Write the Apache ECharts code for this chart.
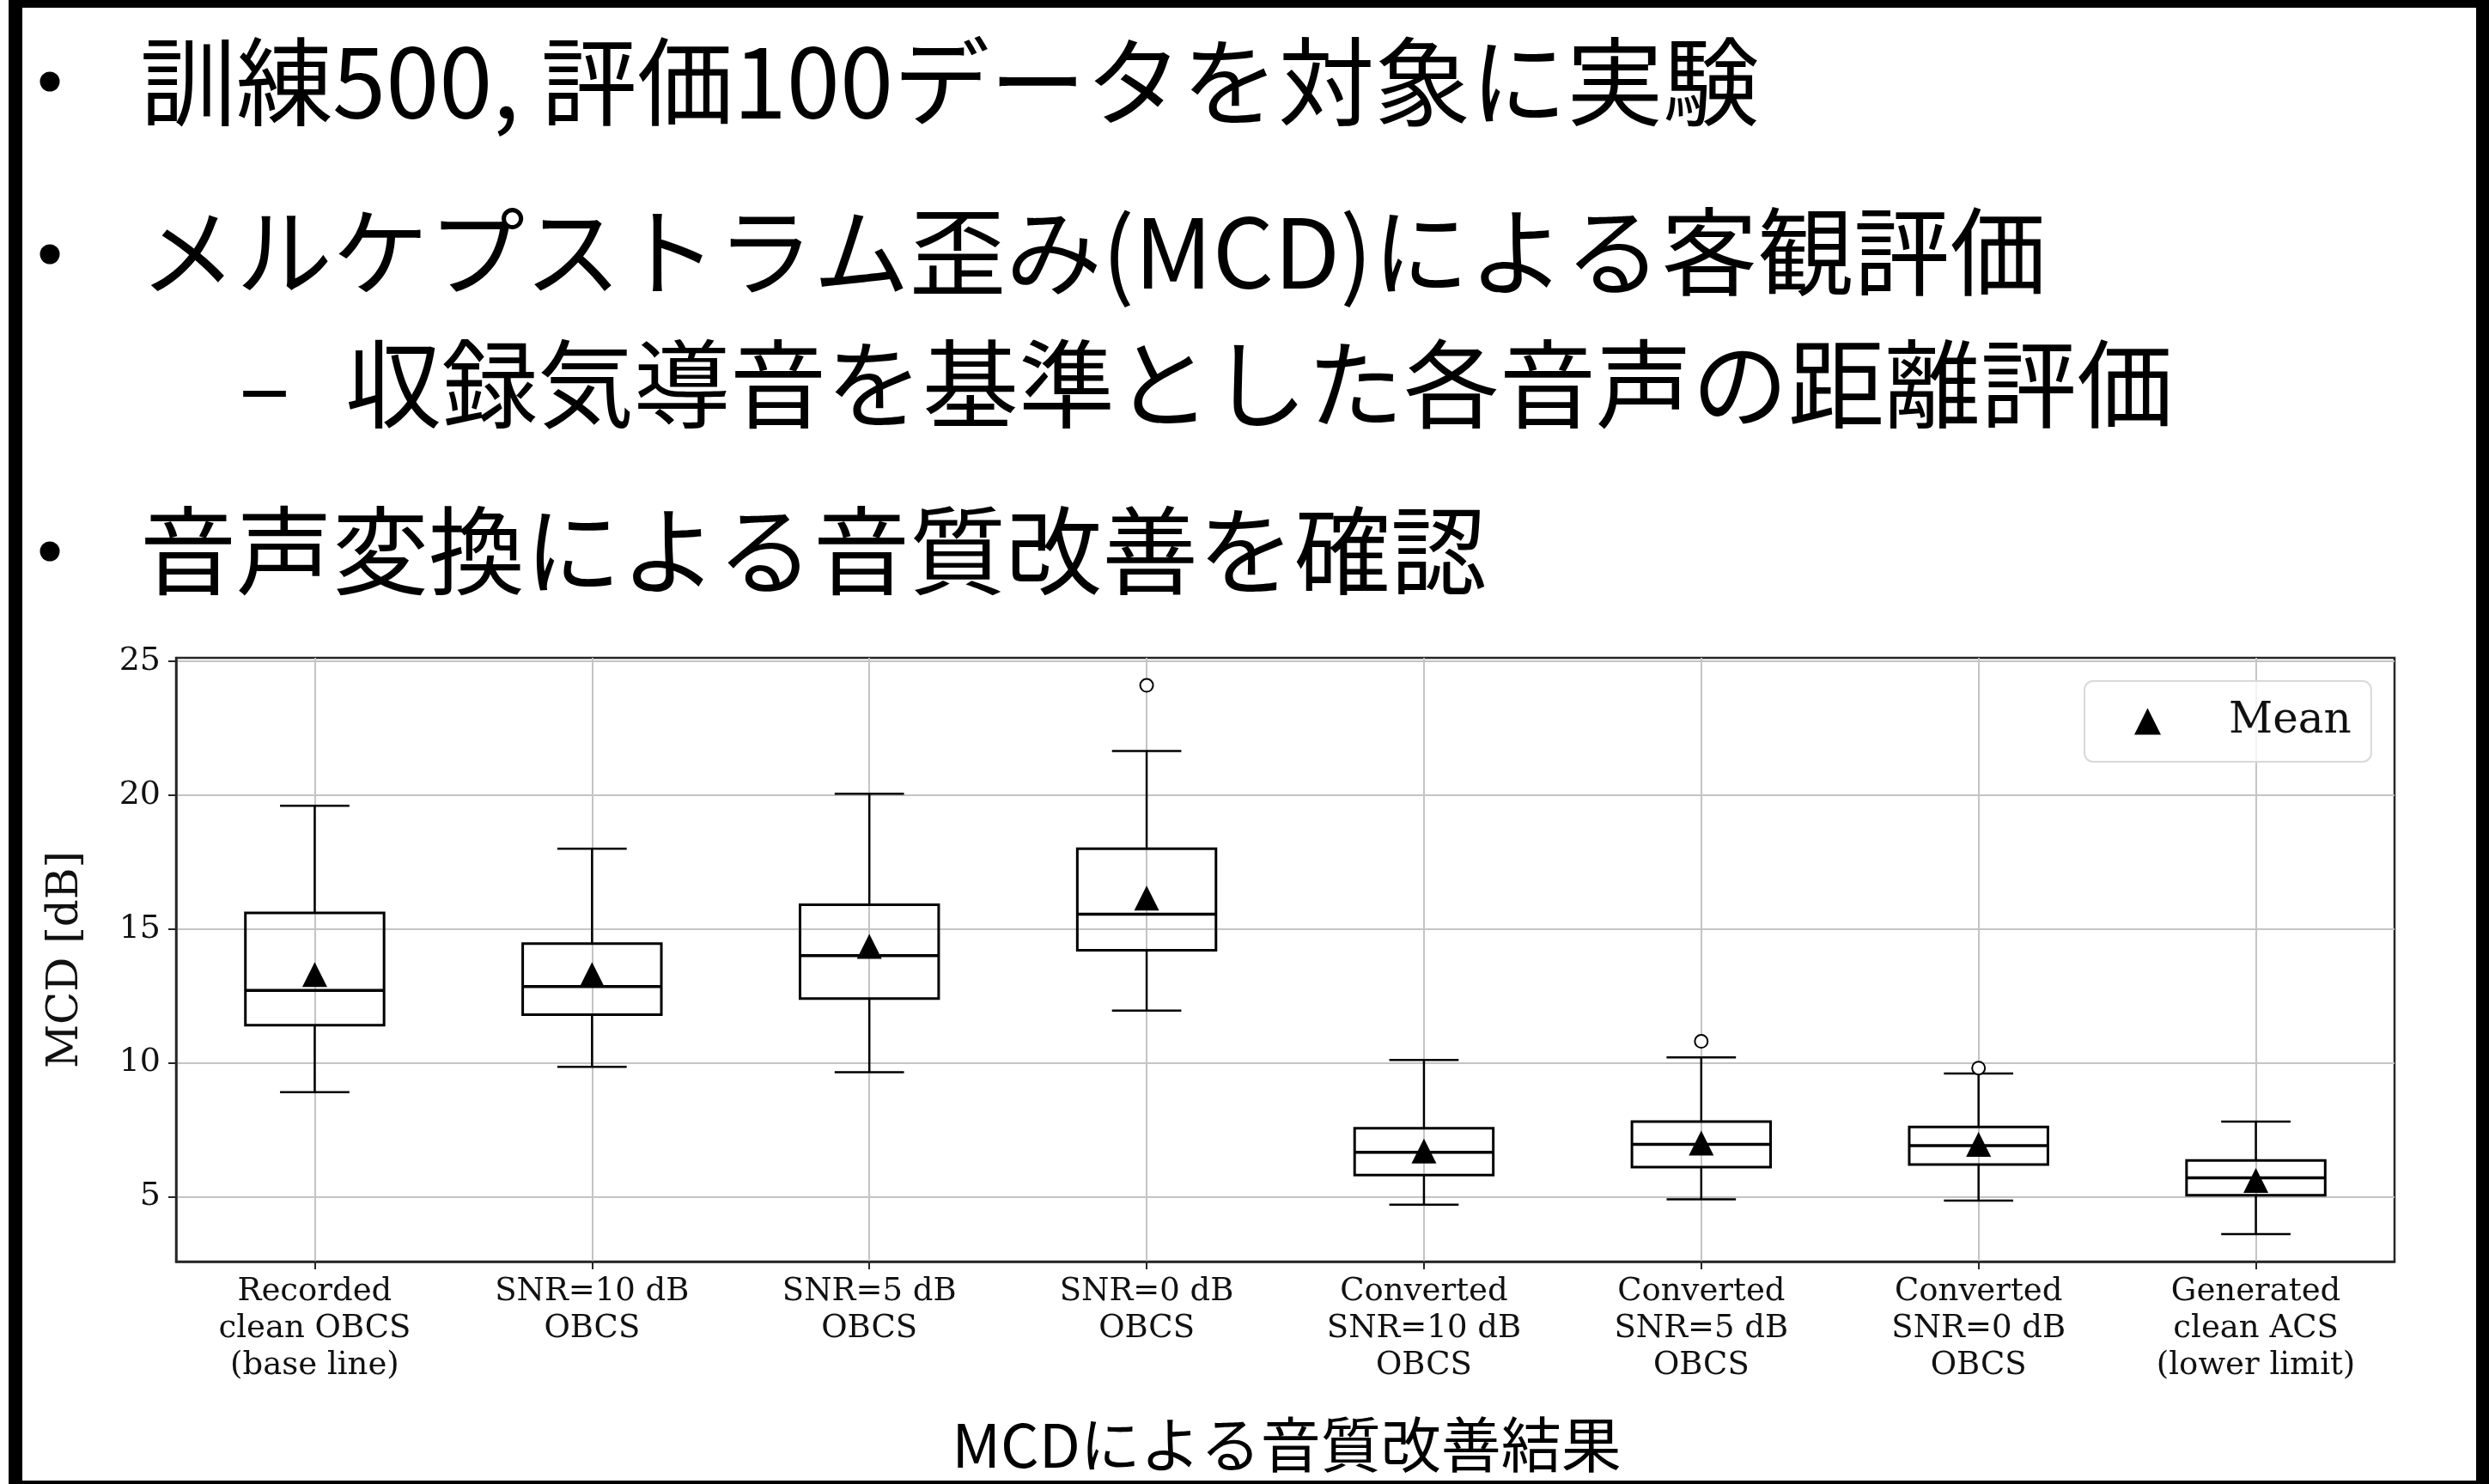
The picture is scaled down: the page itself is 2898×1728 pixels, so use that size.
<!DOCTYPE html>
<html>
<head>
<meta charset="utf-8">
<script src="https://cdn.jsdelivr.net/npm/echarts@6/dist/echarts.min.js"></script>
<style>
  html, body { margin: 0; padding: 0; background: #fff; }
  #main { width: 2898px; height: 1728px; }
</style>
</head>
<body>
<div id="main"></div>
<script>
// values
var categories = [
    'Recorded\nclean OBCS\n(base line)',
    'SNR=10 dB\nOBCS',
    'SNR=5 dB\nOBCS',
    'SNR=0 dB\nOBCS',
    'Converted\nSNR=10 dB\nOBCS',
    'Converted\nSNR=5 dB\nOBCS',
    'Converted\nSNR=0 dB\nOBCS',
    'Generated\nclean ACS\n(lower limit)'
];
var whiskerLow  = [8.9, 9.85, 9.65, 11.95, 4.7, 4.9, 4.85, 3.6];
var q1          = [11.4, 11.8, 12.4, 14.2, 5.8, 6.1, 6.2, 5.05];
var median      = [12.7, 12.85, 14.0, 15.55, 6.65, 6.95, 6.9, 5.7];
var q3          = [15.6, 14.45, 15.9, 18.0, 7.55, 7.8, 7.6, 6.35];
var whiskerHigh = [19.6, 18.0, 20.05, 21.65, 10.1, 10.2, 9.6, 7.8];
var means       = [13.3, 13.3, 14.35, 16.15, 6.7, 7.0, 6.95, 5.6];
var outliers    = [[3, 24.1], [5, 10.8], [6, 9.8]];
var yTicks      = [5, 10, 15, 20, 25];

var serif = 'DejaVu Serif';
var jp = 'Noto Sans CJK JP';

var myChart = echarts.init(document.getElementById('main'));
var option;

var boxData = categories.map(function (c, i) {
    return [i, whiskerLow[i], q1[i], median[i], q3[i], whiskerHigh[i]];
});
var meanData = means.map(function (v, i) { return [i, v]; });

function renderBox(params, api) {
    var i = api.value(0);
    var band = api.size([1, 0])[0];
    var half = band * 0.25, cap = band * 0.125;
    var lo = api.coord([i, api.value(1)]);
    var b1 = api.coord([i, api.value(2)]);
    var md = api.coord([i, api.value(3)]);
    var b3 = api.coord([i, api.value(4)]);
    var hi = api.coord([i, api.value(5)]);
    var cx = lo[0];
    var ls = { stroke: '#000', lineWidth: 2.5 };
    return {
        type: 'group',
        children: [
            { type: 'line', shape: { x1: cx, y1: hi[1], x2: cx, y2: b3[1] }, style: ls },
            { type: 'line', shape: { x1: cx, y1: b1[1], x2: cx, y2: lo[1] }, style: ls },
            { type: 'line', shape: { x1: cx - cap, y1: hi[1], x2: cx + cap, y2: hi[1] }, style: ls },
            { type: 'line', shape: { x1: cx - cap, y1: lo[1], x2: cx + cap, y2: lo[1] }, style: ls },
            { type: 'rect', shape: { x: cx - half, y: b3[1], width: half * 2, height: b1[1] - b3[1] },
              style: { fill: 'none', stroke: '#000', lineWidth: 3 } },
            { type: 'line', shape: { x1: cx - half, y1: md[1], x2: cx + half, y2: md[1] },
              style: { stroke: '#000', lineWidth: 3.5 } }
        ]
    };
}

function slideText(str, x, y, size, extra) {
    var st = { text: str, fontFamily: jp, fontSize: size, fill: '#000', verticalAlign: 'middle' };
    if (extra) { for (var k in extra) st[k] = extra[k]; }
    return { type: 'text', x: x, y: y, style: st, z: 10 };
}

option = {
    backgroundColor: '#fff',
    animation: false,
    grid: {
        left: 205,
        top: 766,
        right: 110,
        bottom: 259,
        show: true,
        borderColor: '#262626',
        borderWidth: 2.5
    },
    legend: {
        data: ['Mean'],
        left: 2427,
        top: 793,
        icon: 'triangle',
        itemWidth: 31,
        itemHeight: 31,
        padding: [22, 23, 22, 58],
        backgroundColor: 'rgba(255,255,255,0.8)',
        borderColor: '#d9d9d9',
        borderWidth: 2,
        borderRadius: 10,
        selectedMode: false,
        itemStyle: { opacity: 1 },
        textStyle: { fontFamily: serif, fontSize: 50, color: '#111', padding: [0, 0, 0, 74] }
    },
    xAxis: {
        type: 'category',
        data: categories,
        boundaryGap: true,
        axisLine: { show: true, lineStyle: { color: '#262626', width: 2.5 } },
        axisTick: { show: true, alignWithLabel: true, length: 9, lineStyle: { color: '#262626', width: 2 } },
        axisLabel: {
            interval: 0,
            fontFamily: serif,
            fontSize: 37,
            lineHeight: 43,
            color: '#111',
            margin: 14
        },
        splitLine: { show: true, alignWithLabel: true, interval: 0, lineStyle: { color: '#c4c4c4', width: 2 } }
    },
    yAxis: {
        type: 'value',
        min: 2.57,
        max: 25.13,
        splitNumber: 5,
        name: 'MCD [dB]',
        nameLocation: 'middle',
        nameRotate: 90,
        nameGap: 103,
        nameTextStyle: { fontFamily: serif, fontSize: 50, color: '#111' },
        axisLine: { show: true, lineStyle: { color: '#262626', width: 2.5 } },
        axisTick: { show: true, length: 9, customValues: yTicks, lineStyle: { color: '#262626', width: 2 } },
        axisLabel: {
            fontFamily: serif,
            fontSize: 38,
            color: '#111',
            margin: 18,
            customValues: yTicks,
            formatter: function (v) { return yTicks.indexOf(v) >= 0 ? String(v) : ''; }
        },
        splitLine: { show: true, lineStyle: { color: '#c4c4c4', width: 2 } }
    },
    series: [
        {
            name: 'boxes',
            type: 'custom',
            renderItem: renderBox,
            encode: { x: 0, y: [1, 2, 3, 4, 5] },
            data: boxData,
            z: 3
        },
        {
            name: 'Mean',
            type: 'scatter',
            symbol: 'triangle',
            symbolSize: 29,
            itemStyle: { color: '#000', opacity: 1 },
            data: meanData,
            z: 5
        },
        {
            name: 'outliers',
            type: 'scatter',
            symbol: 'circle',
            symbolSize: 15,
            itemStyle: { color: '#fff', borderColor: '#000', borderWidth: 2, opacity: 1 },
            data: outliers,
            z: 4
        }
    ],
    graphic: [
        // slide frame
        { type: 'rect', shape: { x: 10, y: 0, width: 2888, height: 9 }, style: { fill: '#000' } },
        { type: 'rect', shape: { x: 10, y: 0, width: 16, height: 1728 }, style: { fill: '#000' } },
        { type: 'rect', shape: { x: 2883, y: 0, width: 15, height: 1728 }, style: { fill: '#000' } },
        { type: 'rect', shape: { x: 10, y: 1724, width: 2888, height: 4 }, style: { fill: '#000' } },
        // bullets
        { type: 'circle', shape: { cx: 58, cy: 95, r: 11.5 }, style: { fill: '#000' } },
        { type: 'circle', shape: { cx: 58, cy: 296, r: 11.5 }, style: { fill: '#000' } },
        { type: 'circle', shape: { cx: 58, cy: 642, r: 11.5 }, style: { fill: '#000' } },
        slideText('訓練500, 評価100データを対象に実験', 163, 95, 112),
        slideText('メルケプストラム歪み(MCD)による客観評価', 163, 293, 112),
        slideText('–', 278, 447, 112),
        slideText('収録気導音を基準とした各音声の距離評価', 402, 447, 112),
        slideText('音声変換による音質改善を確認', 163, 641, 112),
        slideText('MCDによる音質改善結果', 1498, 1682, 70, { align: 'center' })
    ]
};

option && myChart.setOption(option);
</script>
</body>
</html>
